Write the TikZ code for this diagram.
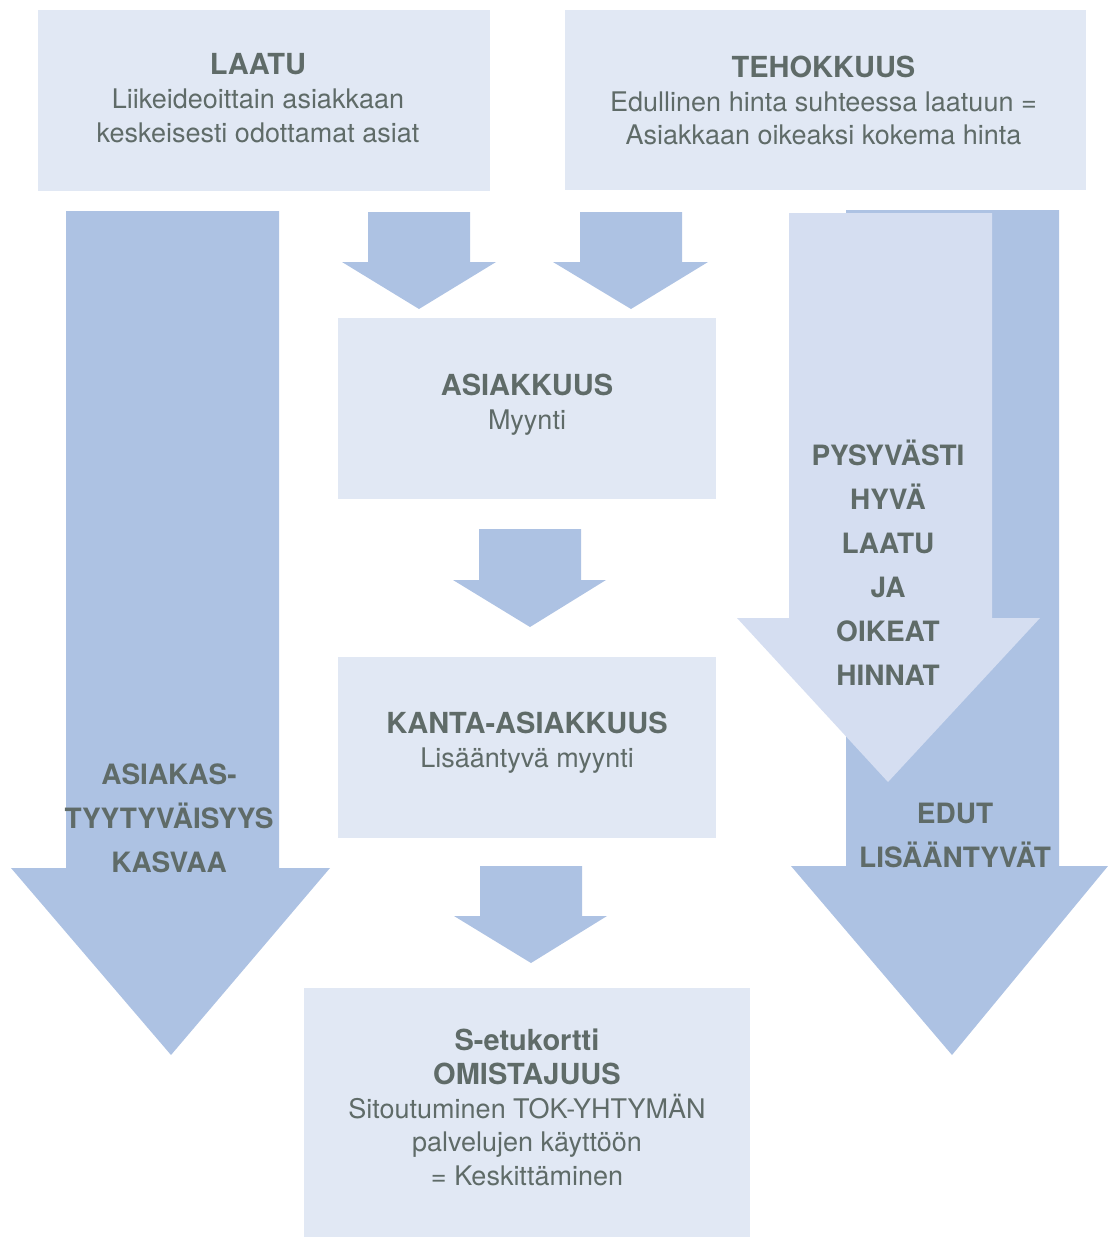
\documentclass[tikz,border=0pt]{standalone}
\usepackage{fontspec}
\setmainfont{TeX Gyre Heros}
\usetikzlibrary{positioning}

\definecolor{boxfill}{HTML}{E1E8F4}
\definecolor{arrowdark}{HTML}{ADC2E3}
\definecolor{arrowlight}{HTML}{D5DEF1}
\definecolor{textgrey}{HTML}{5F6B68}

\tikzset{
  stagebox/.style={fill=boxfill, inner sep=0pt},
  boxlabel/.style={align=center, text=textgrey, inner sep=0pt,
    font=\fontsize{27}{33.8}\selectfont},
  arrowtext/.style={align=center, text=textgrey,
    font=\fontsize{28}{44}\selectfont\bfseries},
}
\newcommand{\boxtitle}[1]{{\fontsize{29}{33.8}\selectfont\bfseries #1}}

\begin{document}
\begin{tikzpicture}[x=1pt,y=-1pt]
  \useasboundingbox (0,0) rectangle (1108,1237);

  % big arrows at the sides
  \fill[arrowdark] (66,211) -- (279,211) -- (279,868) -- (330,868)
    -- (171,1055) -- (11,868) -- (66,868) -- cycle;
  \fill[arrowdark] (846,210) -- (1059,210) -- (1059,866) -- (1108,866)
    -- (952,1055) -- (791,866) -- (846,866) -- cycle;
  \fill[arrowlight] (789,213) -- (992,213) -- (992,618) -- (1040,618)
    -- (888,782) -- (737,618) -- (789,618) -- cycle;

  % small arrows between the boxes
  \fill[arrowdark] (368,212) -- (470,212) -- (470,262) -- (496,262)
    -- (419,309) -- (342,262) -- (368,262) -- cycle;
  \fill[arrowdark] (580,212) -- (682,212) -- (682,262) -- (708,262)
    -- (631,309) -- (553,262) -- (580,262) -- cycle;
  \fill[arrowdark] (479,529) -- (581,529) -- (581,580) -- (606,580)
    -- (530,627) -- (453,580) -- (479,580) -- cycle;
  \fill[arrowdark] (480,866) -- (582,866) -- (582,916) -- (607,916)
    -- (531,963) -- (454,916) -- (480,916) -- cycle;

  % boxes
  \node[stagebox, minimum width=452, minimum height=181] (laatu) at (264,100.5) {};
  \node[stagebox, minimum width=521, minimum height=180] (tehokkuus) at (825.5,100) {};
  \node[stagebox, minimum width=378, minimum height=181] (asiakkuus) at (527,408.5) {};
  \node[stagebox, minimum width=378, minimum height=181] (kanta) at (527,747.5) {};
  \node[stagebox, minimum width=446, minimum height=249] (omistajuus) at (527,1112.5) {};

  \node[boxlabel] (laatutext) at ([xshift=-6pt,yshift=2.5pt]laatu.center)
    {\boxtitle{LAATU}\\ Liikeideoittain asiakkaan\\ keskeisesti odottamat asiat};
  \node[boxlabel] (tehokkuustext) at ([xshift=-2pt,yshift=-0.5pt]tehokkuus.center)
    {\boxtitle{TEHOKKUUS}\\ Edullinen hinta suhteessa laatuun =\\ Asiakkaan oikeaksi kokema hinta};
  \node[boxlabel] (asiakkuustext) at ([yshift=4pt]asiakkuus.center)
    {\boxtitle{ASIAKKUUS}\\ Myynti};
  \node[boxlabel] (kantatext) at ([yshift=5pt]kanta.center)
    {\boxtitle{KANTA-ASIAKKUUS}\\ Lisääntyvä myynti};
  \node[boxlabel] (omistajuustext) at ([yshift=5pt]omistajuus.center)
    {\boxtitle{S-etukortti}\\ \boxtitle{OMISTAJUUS}\\ Sitoutuminen TOK-YHTYMÄN\\
     palvelujen käyttöön\\ = Keskittäminen};

  % texts in the big arrows
  \node[arrowtext] (tyytyvaisyys) at (169,818) {ASIAKAS-\\TYYTYVÄISYYS\\KASVAA};
  \node[arrowtext] (hinnat) at (888,563) {PYSYVÄSTI\\HYVÄ\\LAATU\\JA\\OIKEAT\\HINNAT};
  \node[arrowtext] (edut) at (955,835) {EDUT\\LISÄÄNTYVÄT};
\end{tikzpicture}
\end{document}
